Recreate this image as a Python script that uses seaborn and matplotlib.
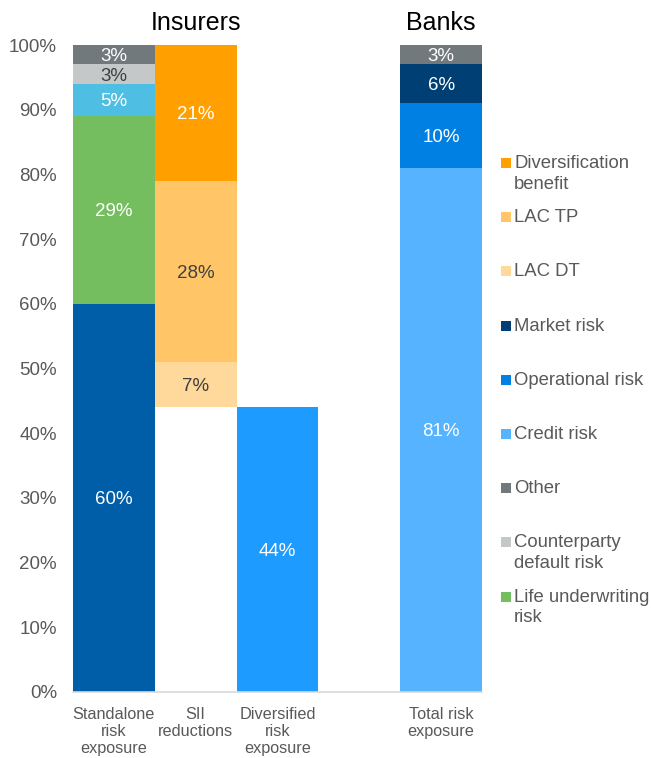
import matplotlib
matplotlib.use("Agg")
import matplotlib.pyplot as plt
import seaborn as sns
import pandas as pd
from matplotlib.patches import Rectangle
from matplotlib.ticker import PercentFormatter

sns.set_style("white")
plt.rcParams['font.family'] = ['Liberation Sans', 'DejaVu Sans']

# ---- data ----
categories = ["Standalone\nrisk\nexposure", "SII\nreductions", "Diversified\nrisk\nexposure", " ", "Total risk\nexposure"]

standalone_series = ["Insurers market risk", "Life underwriting risk", "Health underwriting risk", "Counterparty default risk", "Other"]
standalone_values = [60, 29, 5, 3, 3]

sii_series = ["LAC DT", "LAC TP", "Diversification benefit"]
sii_values = [7, 28, 21]

diversified_series = ["Diversified risk exposure"]
diversified_values = [44]

banks_series = ["Credit risk", "Operational risk", "Market risk", "Other"]
banks_values = [81, 10, 6, 3]

legend_labels = ["Diversification\nbenefit", "LAC TP", "LAC DT", "Market risk", "Operational risk",
                 "Credit risk", "Other", "Counterparty\ndefault risk", "Life underwriting\nrisk"]
legend_keys = ["Diversification benefit", "LAC TP", "LAC DT", "Market risk", "Operational risk",
               "Credit risk", "Other", "Counterparty default risk", "Life underwriting risk"]

colors = {
    "Insurers market risk": "#005EA8",
    "Life underwriting risk": "#74BE5F",
    "Health underwriting risk": "#4FBEE3",
    "Counterparty default risk": "#C5C8C9",
    "Other": "#72797C",
    "LAC DT": "#FFD99B",
    "LAC TP": "#FFC566",
    "Diversification benefit": "#FFA000",
    "Diversified risk exposure": "#1E9BFF",
    "Credit risk": "#55B3FF",
    "Operational risk": "#0080E3",
    "Market risk": "#003F73",
}
dark_text = {"Counterparty default risk", "LAC DT", "LAC TP"}

# build rows (category, series, value, bottom)
rows = []
def stack(cat, names, vals, base=0.0):
    b = base
    for n, v in zip(names, vals):
        rows.append((cat, n, v / 100, b))
        b += v / 100

stack(categories[0], standalone_series, standalone_values)
stack(categories[1], sii_series, sii_values, base=diversified_values[0] / 100)
stack(categories[2], diversified_series, diversified_values)
stack(categories[4], banks_series, banks_values)
df = pd.DataFrame(rows, columns=["category", "series", "value", "bottom"])

fig = plt.figure(figsize=(6.51, 7.58), dpi=100)
ax = fig.add_axes([73 / 651, 1 - 692 / 758, (482 - 73) / 651, (692 - 45) / 758])

for _, r in df.iterrows():
    sns.barplot(x=[r["category"]], y=[r["value"]], order=categories, bottom=r["bottom"],
                color=colors[r["series"]], saturation=1, width=1.0, ax=ax, linewidth=0)
    ax.text(categories.index(r["category"]), r["bottom"] + r["value"] / 2,
            f"{int(round(r['value'] * 100))}%", ha="center", va="center_baseline", fontsize=13.5,
            color="#404040" if r["series"] in dark_text else "white")

ax.set_xlim(-0.5, 4.5)
ax.set_ylim(0, 1)
ax.set_yticks([i / 10 for i in range(11)])
ax.yaxis.set_major_formatter(PercentFormatter(1.0, decimals=0))
ax.set_xlabel("")
ax.set_ylabel("")
for s in ["top", "right", "left"]:
    ax.spines[s].set_visible(False)
ax.spines["bottom"].set_color("#D9D9D9")
ax.spines["bottom"].set_linewidth(1.2)
ax.tick_params(axis="y", length=0, pad=11.5, labelsize=13.5, labelcolor="#595959")
ax.tick_params(axis="x", length=0, pad=11, labelsize=11.7, labelcolor="#595959")
for t in ax.get_xticklabels():
    t.set_linespacing(1.15)

ax.text(1, 1.023, "Insurers", ha="center", va="baseline", fontsize=18, color="black",
        transform=ax.get_xaxis_transform())
ax.text(4, 1.023, "Banks", ha="center", va="baseline", fontsize=18, color="black",
        transform=ax.get_xaxis_transform())

# legend
y0 = 163
step = 54.2
for i, (lab, key) in enumerate(zip(legend_labels, legend_keys)):
    yc = y0 + i * step
    fig.add_artist(Rectangle(((501) / 651, 1 - (yc + 5) / 758), 10 / 651, 10 / 758,
                             transform=fig.transFigure, color=colors[key], linewidth=0))
    fig.text(514 / 651, 1 - (yc - 8) / 758, lab, ha="left", va="top", fontsize=13.3,
             color="#595959", linespacing=1.3)

fig.savefig("out.png", dpi=100)
